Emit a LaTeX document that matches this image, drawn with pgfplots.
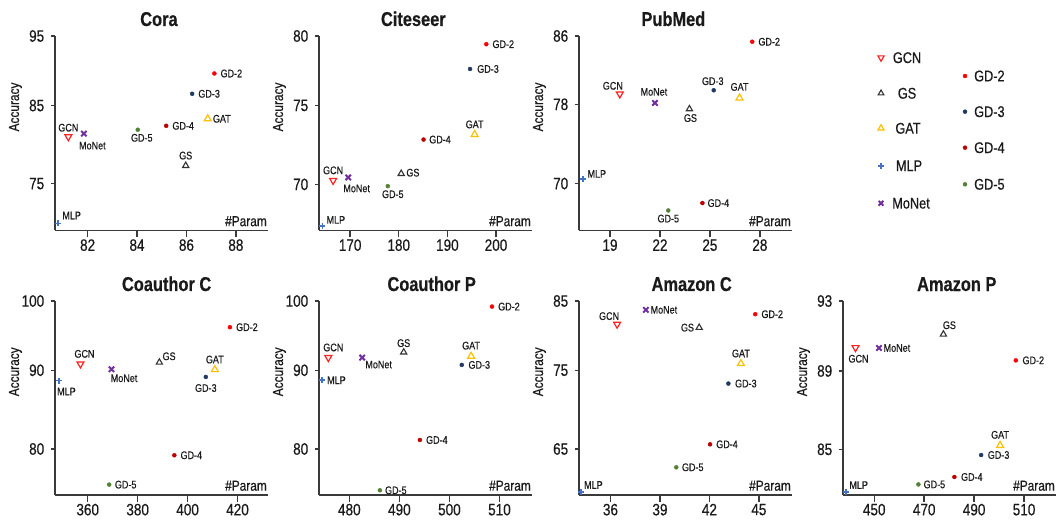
\documentclass[border=0pt]{standalone}
\usepackage{pgfplots}
\pgfplotsset{compat=1.18}
\usepackage{fontspec}
\setmainfont{Liberation Sans}[FakeStretch=0.82, FakeBold=0.5]

\definecolor{cgcn}{HTML}{FF2020}
\definecolor{cgs}{HTML}{333333}
\definecolor{cgat}{HTML}{FFC000}
\definecolor{cmlp}{HTML}{4472C4}
\definecolor{cmonet}{HTML}{7030A0}
\definecolor{cgdtwo}{HTML}{FF0000}
\definecolor{cgdthree}{HTML}{1F3864}
\definecolor{cgdfour}{HTML}{C00000}
\definecolor{cgdfive}{HTML}{548235}
\definecolor{caxis}{HTML}{3A3A3A}
\definecolor{ctext}{HTML}{1A1A1A}

\pgfplotsset{
  pGCN/.style={only marks, color=cgcn, mark=triangle*, mark size=4pt, mark options={rotate=180, draw=cgcn, fill=white, line width=1.2pt}},
  pGS/.style={only marks, color=cgs, mark=triangle*, mark size=3.6pt, mark options={draw=cgs, fill=white, line width=1.1pt}},
  pGAT/.style={only marks, color=cgat, mark=triangle*, mark size=4pt, mark options={draw=cgat, fill=white, line width=1.2pt}},
  pMLP/.style={only marks, color=cmlp, mark=+, mark size=3pt, mark options={line width=1.8pt}},
  pMoNet/.style={only marks, color=cmonet, mark=x, mark size=3.8pt, mark options={line width=2pt}},
  pGDtwo/.style={only marks, color=cgdtwo, mark=*, mark size=2pt},
  pGDthree/.style={only marks, color=cgdthree, mark=*, mark size=2pt},
  pGDfour/.style={only marks, color=cgdfour, mark=*, mark size=2pt},
  pGDfive/.style={only marks, color=cgdfive, mark=*, mark size=2pt},
  panel/.style={
    scale only axis, width=213pt, height=194pt, anchor=south west,
    axis x line*=bottom, axis y line*=left,
    axis line style={caxis, line width=1.6pt},
    tick align=outside,
    xtick style={caxis, line width=1.4pt, /pgfplots/major tick length=7pt},
    ytick style={caxis, line width=1.4pt, /pgfplots/major tick length=4.5pt},
    minor tick num=0,
    scaled ticks=false,
    /pgf/number format/assume math mode=true,
    ticklabel style={font=\fontsize{16.5}{16.5}\selectfont, text=ctext},
    yticklabel style={xshift=-3pt},
    xticklabel style={yshift=-1pt},
    clip=false,
  },
}
\tikzset{
  lb/.style={font=\fontsize{11}{11}\selectfont, text=ctext, inner sep=0pt},
  ttl/.style={anchor=base, yshift=10pt, font=\fontsize{20}{20}\selectfont\bfseries, text=ctext, inner sep=0pt},
  acc/.style={xshift=-39.5pt, rotate=90, anchor=center, font=\fontsize{14.5}{14.5}\selectfont, text=ctext, inner sep=0pt},
  prm/.style={anchor=south east, yshift=4pt, xshift=-1pt, font=\fontsize{14.5}{14.5}\selectfont, text=ctext, inner sep=0pt},
  lg/.style={font=\fontsize{15.5}{15.5}\selectfont, text=ctext, inner sep=0pt},
}
\newcommand{\Lb}[4]{\node[lb,#3] at (axis cs:#1,#2) {#4};}

\begin{document}
\begin{tikzpicture}
\useasboundingbox (0,0) rectangle (1064pt,524pt);

% ---------------- Cora ----------------
\begin{axis}[panel, at={(55pt,293.5pt)}, height=194.5pt,
  xmin=80.68, xmax=89.3, ymin=69.0, ymax=93.9,
  xtick={82,84,86,88}, ytick={75,85,93.9}, yticklabels={75,85,95}]
\addplot[pGCN] coordinates {(81.22,81.0)};
\addplot[pGS] coordinates {(85.97,77.3)};
\addplot[pGAT] coordinates {(86.86,83.3)};
\addplot[pMLP] coordinates {(80.81,69.9)};
\addplot[pMoNet] coordinates {(81.85,81.4)};
\addplot[pGDtwo] coordinates {(87.13,89.1)};
\addplot[pGDthree] coordinates {(86.23,86.5)};
\addplot[pGDfour] coordinates {(85.18,82.4)};
\addplot[pGDfive] coordinates {(84.03,81.9)};
\Lb{81.22}{81.0}{anchor=south,yshift=5pt}{GCN}
\Lb{85.97}{77.3}{anchor=south,yshift=6pt}{GS}
\Lb{86.86}{83.3}{anchor=west,xshift=5pt}{GAT}
\Lb{80.81}{69.9}{anchor=south west,xshift=4pt,yshift=4pt}{MLP}
\Lb{81.85}{81.4}{anchor=north west,xshift=-5pt,yshift=-8pt}{MoNet}
\Lb{87.13}{89.1}{anchor=west,xshift=6pt}{GD-2}
\Lb{86.23}{86.5}{anchor=west,xshift=6pt}{GD-3}
\Lb{85.18}{82.4}{anchor=west,xshift=6pt}{GD-4}
\Lb{84.03}{81.9}{anchor=north,xshift=4pt,yshift=-4pt}{GD-5}
\node[ttl] at (rel axis cs:0.488,1) {Cora};
\node[acc] at (rel axis cs:0,0.635) {Accuracy};
\node[prm] at (rel axis cs:1,0) {\#Param};
\end{axis}

% ---------------- Citeseer ----------------
\begin{axis}[panel, at={(319pt,293.5pt)}, height=194.5pt,
  xmin=163.6, xmax=207.4, ymin=67.08, ymax=79.4,
  xtick={170,180,190,200}, ytick={70,75,79.4}, yticklabels={70,75,80}]
\addplot[pGCN] coordinates {(166.5,70.25)};
\addplot[pGS] coordinates {(180.5,70.68)};
\addplot[pGAT] coordinates {(195.6,73.16)};
\addplot[pMLP] coordinates {(164.3,67.37)};
\addplot[pMoNet] coordinates {(169.6,70.44)};
\addplot[pGDtwo] coordinates {(198.0,78.88)};
\addplot[pGDthree] coordinates {(194.66,77.31)};
\addplot[pGDfour] coordinates {(185.1,72.84)};
\addplot[pGDfive] coordinates {(177.75,69.89)};
\Lb{166.5}{70.25}{anchor=south,yshift=6pt}{GCN}
\Lb{180.5}{70.68}{anchor=west,xshift=5pt,yshift=1pt}{GS}
\Lb{195.6}{73.16}{anchor=south,yshift=6pt}{GAT}
\Lb{164.3}{67.37}{anchor=south west,xshift=4pt,yshift=2pt}{MLP}
\Lb{169.6}{70.44}{anchor=north west,xshift=-5pt,yshift=-7pt}{MoNet}
\Lb{198.0}{78.88}{anchor=west,xshift=6pt}{GD-2}
\Lb{194.66}{77.31}{anchor=west,xshift=7pt}{GD-3}
\Lb{185.1}{72.84}{anchor=west,xshift=5.5pt}{GD-4}
\Lb{177.75}{69.89}{anchor=north,xshift=5pt,yshift=-4pt}{GD-5}
\node[ttl] at (rel axis cs:0.443,1) {Citeseer};
\node[acc] at (rel axis cs:0,0.635) {Accuracy};
\node[prm] at (rel axis cs:1,0) {\#Param};
\end{axis}

% ---------------- PubMed ----------------
\begin{axis}[panel, at={(579pt,293.5pt)}, height=194.5pt,
  xmin=17.14, xmax=29.93, ymin=65.26, ymax=84.9,
  xtick={19,22,25,28}, ytick={70,78,84.9}, yticklabels={70,78,86}]
\addplot[pGCN] coordinates {(19.59,79.05)};
\addplot[pGS] coordinates {(23.77,77.53)};
\addplot[pGAT] coordinates {(26.78,78.64)};
\addplot[pMLP] coordinates {(17.4,70.47)};
\addplot[pMoNet] coordinates {(21.7,78.14)};
\addplot[pGDtwo] coordinates {(27.54,84.32)};
\addplot[pGDthree] coordinates {(25.23,79.42)};
\addplot[pGDfour] coordinates {(24.55,68.03)};
\addplot[pGDfive] coordinates {(22.5,67.28)};
\Lb{19.59}{79.05}{anchor=south,xshift=-7pt,yshift=4pt}{GCN}
\Lb{23.77}{77.53}{anchor=north,xshift=1pt,yshift=-5pt}{GS}
\Lb{26.78}{78.64}{anchor=south,yshift=7pt}{GAT}
\Lb{17.4}{70.47}{anchor=west,xshift=4pt,yshift=5pt}{MLP}
\Lb{21.7}{78.14}{anchor=south,xshift=-1pt,yshift=7pt}{MoNet}
\Lb{27.54}{84.32}{anchor=west,xshift=6pt}{GD-2}
\Lb{25.23}{79.42}{anchor=south,xshift=-1pt,yshift=5pt}{GD-3}
\Lb{24.55}{68.03}{anchor=west,xshift=5pt}{GD-4}
\Lb{22.5}{67.28}{anchor=north,yshift=-4pt}{GD-5}
\node[ttl] at (rel axis cs:0.443,1) {PubMed};
\node[acc] at (rel axis cs:0,0.635) {Accuracy};
\node[prm] at (rel axis cs:1,0) {\#Param};
\end{axis}

% ---------------- Coauthor C ----------------
\begin{axis}[panel, at={(55pt,29pt)},
  xmin=346.9, xmax=432.2, ymin=74.15, ymax=98.8,
  xtick={360,380,400,420}, ytick={80,90,98.8}, yticklabels={80,90,100}]
\addplot[pGCN] coordinates {(357.1,90.8)};
\addplot[pGS] coordinates {(388.7,91.0)};
\addplot[pGAT] coordinates {(410.9,90.08)};
\addplot[pMLP] coordinates {(348.5,88.69)};
\addplot[pMoNet] coordinates {(369.55,90.13)};
\addplot[pGDtwo] coordinates {(416.96,95.47)};
\addplot[pGDthree] coordinates {(407.3,89.15)};
\addplot[pGDfour] coordinates {(394.7,79.2)};
\addplot[pGDfive] coordinates {(368.6,75.47)};
\Lb{357.1}{90.8}{anchor=south,xshift=4pt,yshift=6pt}{GCN}
\Lb{388.7}{91.0}{anchor=south west,xshift=3pt,yshift=2pt}{GS}
\Lb{410.9}{90.08}{anchor=south,yshift=6pt}{GAT}
\Lb{348.5}{88.69}{anchor=north west,xshift=-2pt,yshift=-7pt}{MLP}
\Lb{369.55}{90.13}{anchor=north west,xshift=-1pt,yshift=-5pt}{MoNet}
\Lb{416.96}{95.47}{anchor=west,xshift=6pt}{GD-2}
\Lb{407.3}{89.15}{anchor=north,yshift=-7pt}{GD-3}
\Lb{394.7}{79.2}{anchor=west,xshift=6pt}{GD-4}
\Lb{368.6}{75.47}{anchor=west,xshift=5.5pt}{GD-5}
\node[ttl] at (rel axis cs:0.524,1) {Coauthor C};
\node[acc] at (rel axis cs:0,0.635) {Accuracy};
\node[prm] at (rel axis cs:1,0) {\#Param};
\end{axis}

% ---------------- Coauthor P ----------------
\begin{axis}[panel, at={(319pt,29pt)},
  xmin=473.94, xmax=516.5, ymin=74.15, ymax=98.8,
  xtick={480,490,500,510}, ytick={80,90,98.8}, yticklabels={80,90,100}]
\addplot[pGCN] coordinates {(475.8,91.61)};
\addplot[pGS] coordinates {(490.86,92.29)};
\addplot[pGAT] coordinates {(504.33,91.78)};
\addplot[pMLP] coordinates {(474.54,88.73)};
\addplot[pMoNet] coordinates {(482.57,91.61)};
\addplot[pGDtwo] coordinates {(508.5,98.09)};
\addplot[pGDthree] coordinates {(502.47,90.68)};
\addplot[pGDfour] coordinates {(494.1,81.14)};
\addplot[pGDfive] coordinates {(486.1,74.75)};
\Lb{475.8}{91.61}{anchor=south,xshift=5pt,yshift=6pt}{GCN}
\Lb{490.86}{92.29}{anchor=south,yshift=5pt}{GS}
\Lb{504.33}{91.78}{anchor=south,yshift=6.5pt}{GAT}
\Lb{474.54}{88.73}{anchor=west,xshift=5pt}{MLP}
\Lb{482.57}{91.61}{anchor=north west,xshift=3pt,yshift=-3pt}{MoNet}
\Lb{508.5}{98.09}{anchor=west,xshift=6pt}{GD-2}
\Lb{502.47}{90.68}{anchor=west,xshift=6.5pt}{GD-3}
\Lb{494.1}{81.14}{anchor=west,xshift=6pt}{GD-4}
\Lb{486.1}{74.75}{anchor=west,xshift=5pt}{GD-5}
\node[ttl] at (rel axis cs:0.529,1) {Coauthor P};
\node[acc] at (rel axis cs:0,0.635) {Accuracy};
\node[prm] at (rel axis cs:1,0) {\#Param};
\end{axis}

% ---------------- Amazon C ----------------
\begin{axis}[panel, at={(579pt,29pt)},
  xmin=34.09, xmax=47.01, ymin=59.15, ymax=83.8,
  xtick={36,39,42,45}, ytick={65,75,83.8}, yticklabels={65,75,85}]
\addplot[pGCN] coordinates {(36.4,80.85)};
\addplot[pGS] coordinates {(41.38,80.42)};
\addplot[pGAT] coordinates {(43.91,75.85)};
\addplot[pMLP] coordinates {(34.21,59.53)};
\addplot[pMoNet] coordinates {(38.15,82.67)};
\addplot[pGDtwo] coordinates {(44.78,82.12)};
\addplot[pGDthree] coordinates {(43.15,73.31)};
\addplot[pGDfour] coordinates {(42.04,65.59)};
\addplot[pGDfive] coordinates {(39.99,62.67)};
\Lb{36.4}{80.85}{anchor=south,xshift=-8pt,yshift=4pt}{GCN}
\Lb{41.38}{80.42}{anchor=east,xshift=-5pt}{GS}
\Lb{43.91}{75.85}{anchor=south,yshift=6pt}{GAT}
\Lb{34.21}{59.53}{anchor=south west,xshift=3pt,yshift=3pt}{MLP}
\Lb{38.15}{82.67}{anchor=west,xshift=4.5pt}{MoNet}
\Lb{44.78}{82.12}{anchor=west,xshift=6pt}{GD-2}
\Lb{43.15}{73.31}{anchor=west,xshift=6.5pt}{GD-3}
\Lb{42.04}{65.59}{anchor=west,xshift=6pt}{GD-4}
\Lb{39.99}{62.67}{anchor=west,xshift=5.5pt}{GD-5}
\node[ttl] at (rel axis cs:0.529,1) {Amazon C};
\node[acc] at (rel axis cs:0,0.635) {Accuracy};
\node[prm] at (rel axis cs:1,0) {\#Param};
\end{axis}

% ---------------- Amazon P ----------------
\begin{axis}[panel, at={(843pt,29pt)},
  xmin=437.5, xmax=522.8, ymin=82.67, ymax=92.57,
  xtick={450,470,490,510}, ytick={85,89,92.57}, yticklabels={85,89,93}]
\addplot[pGCN] coordinates {(442.5,90.19)};
\addplot[pGS] coordinates {(477.7,90.87)};
\addplot[pGAT] coordinates {(500.4,85.2)};
\addplot[pMLP] coordinates {(438.8,82.82)};
\addplot[pMoNet] coordinates {(451.9,90.17)};
\addplot[pGDtwo] coordinates {(506.7,89.54)};
\addplot[pGDthree] coordinates {(492.8,84.71)};
\addplot[pGDfour] coordinates {(482.1,83.59)};
\addplot[pGDfive] coordinates {(467.7,83.21)};
\Lb{442.5}{90.19}{anchor=north,xshift=3pt,yshift=-7pt}{GCN}
\Lb{477.7}{90.87}{anchor=south,xshift=6pt,yshift=5pt}{GS}
\Lb{500.4}{85.2}{anchor=south,yshift=6.5pt}{GAT}
\Lb{438.8}{82.82}{anchor=south west,xshift=3pt,yshift=3pt}{MLP}
\Lb{451.9}{90.17}{anchor=west,xshift=4.5pt}{MoNet}
\Lb{506.7}{89.54}{anchor=west,xshift=6.5pt}{GD-2}
\Lb{492.8}{84.71}{anchor=west,xshift=6.5pt}{GD-3}
\Lb{482.1}{83.59}{anchor=west,xshift=6.5pt}{GD-4}
\Lb{467.7}{83.21}{anchor=west,xshift=5pt}{GD-5}
\node[ttl] at (rel axis cs:0.534,1) {Amazon P};
\node[acc] at (rel axis cs:0,0.635) {Accuracy};
\node[prm] at (rel axis cs:1,0) {\#Param};
\end{axis}

% ---------------- Legend ----------------
\begin{axis}[scale only axis, width=1064pt, height=524pt, at={(0pt,0pt)}, anchor=south west,
  xmin=0, xmax=1064, ymin=0, ymax=524, hide axis, clip=false]
\addplot[pGCN, mark size=3.6pt] coordinates {(881,466.3)};
\addplot[pGS, mark size=3.3pt] coordinates {(881,430.7)};
\addplot[pGAT, mark size=3.6pt] coordinates {(881,395.7)};
\addplot[pMLP] coordinates {(881,358.3)};
\addplot[pMoNet, mark size=3.4pt] coordinates {(881,320.7)};
\addplot[pGDtwo] coordinates {(965,448)};
\addplot[pGDthree] coordinates {(965,412.3)};
\addplot[pGDfour] coordinates {(965,376.3)};
\addplot[pGDfive] coordinates {(965,339.7)};
\node[lg,anchor=center] at (axis cs:907,466.3) {GCN};
\node[lg,anchor=center] at (axis cs:907,430.7) {GS};
\node[lg,anchor=center] at (axis cs:908,395.7) {GAT};
\node[lg,anchor=center] at (axis cs:909,358.3) {MLP};
\node[lg,anchor=center] at (axis cs:911,320.7) {MoNet};
\node[lg,anchor=west] at (axis cs:974,448) {GD-2};
\node[lg,anchor=west] at (axis cs:974,412.3) {GD-3};
\node[lg,anchor=west] at (axis cs:974,376.3) {GD-4};
\node[lg,anchor=west] at (axis cs:974,339.7) {GD-5};
\end{axis}
\end{tikzpicture}
\end{document}
